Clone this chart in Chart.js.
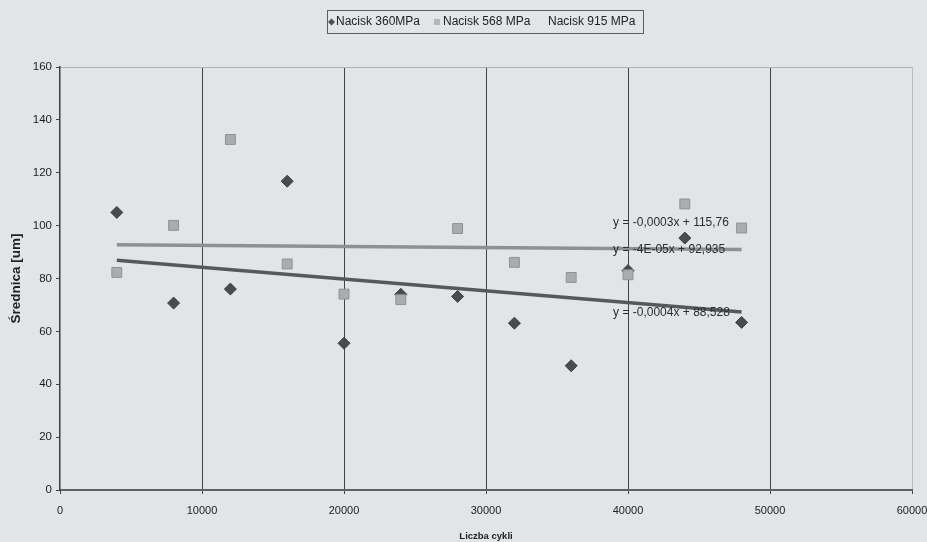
<!DOCTYPE html>
<html><head><meta charset="utf-8">
<script src="https://cdn.jsdelivr.net/npm/chart.js@4/dist/chart.umd.min.js"></script>
<style>html,body{margin:0;padding:0;background:#e1e5e7;overflow:hidden}canvas{display:block}</style>
</head><body>
<canvas id="c" width="927" height="542"></canvas>
<script>
const cycles = [4000, 8000, 12000, 16000, 20000, 24000, 28000, 32000, 36000, 40000, 44000, 48000];
const nacisk360 = [105, 70.7, 76, 116.8, 55.5, 74, 73.2, 63.1, 47, 83, 95.3, 63.4];
const nacisk568 = [82.3, 100.1, 132.6, 85.5, 74.1, 72.0, 98.9, 86.1, 80.4, 81.4, 108.2, 99.1];
const nacisk915 = [];
const seriesLabels = ['Nacisk 360MPa', 'Nacisk 568 MPa', 'Nacisk 915 MPa'];
const trendX = [4000, 48000];
const trend360 = [86.9, 67.3];
const trend568 = [92.8, 91.0];
const equations = ['y = -0,0003x + 115,76', 'y = -4E-05x + 92,935', 'y = -0,0004x + 88,528'];
const xTicks = [0, 10000, 20000, 30000, 40000, 50000, 60000];
const yTicks = [0, 20, 40, 60, 80, 100, 120, 140, 160];
const xTitle = 'Liczba cykli';
const yTitle = 'Średnica [um]';

const FONT = "'Liberation Sans', Arial, sans-serif";
const pts = (xs, ys) => ys.map((y, i) => ({x: xs[i], y}));

const eqLabelPos = [{x: 38950, y: 101}, {x: 38950, y: 90.8}, {x: 38950, y: 67}];

const legendPlugin = {
  id: 'boxLegend',
  afterDraw(chart) {
    const ctx = chart.ctx;
    ctx.save();
    ctx.strokeStyle = '#5a5f62';
    ctx.lineWidth = 1;
    ctx.strokeRect(327.5, 10.5, 316, 23);
    ctx.font = '12px ' + FONT;
    ctx.textBaseline = 'middle';
    const y = 22;
    ctx.fillStyle = '#4a4f52';
    ctx.beginPath();
    ctx.moveTo(331.5, y - 3.5); ctx.lineTo(335, y); ctx.lineTo(331.5, y + 3.5); ctx.lineTo(328, y);
    ctx.closePath(); ctx.fill();
    ctx.fillStyle = '#222';
    ctx.fillText(seriesLabels[0], 336, y);
    ctx.fillStyle = '#b3b7b9';
    ctx.fillRect(434, y - 3, 6, 6);
    ctx.fillStyle = '#222';
    ctx.fillText(seriesLabels[1], 443, y);
    ctx.fillText(seriesLabels[2], 548, y);
    ctx.restore();
  }
};

const eqPlugin = {
  id: 'eqLabels',
  afterDatasetsDraw(chart) {
    const ctx = chart.ctx, xs = chart.scales.x, ys = chart.scales.y;
    ctx.save();
    ctx.font = '12px ' + FONT;
    ctx.fillStyle = '#2a2e30';
    ctx.textBaseline = 'middle';
    equations.forEach((t, i) => {
      ctx.fillText(t, xs.getPixelForValue(eqLabelPos[i].x), ys.getPixelForValue(eqLabelPos[i].y));
    });
    ctx.restore();
  }
};

new Chart(document.getElementById('c'), {
  type: 'scatter',
  data: {
    datasets: [
      {label: seriesLabels[0], data: pts(cycles, nacisk360), pointStyle: 'rectRot', pointRadius: 6,
       backgroundColor: '#474c4f', borderColor: '#3c4043', borderWidth: 1, order: 3},
      {label: seriesLabels[1], data: pts(cycles, nacisk568), pointStyle: 'rect', pointRadius: 7,
       backgroundColor: '#a9adaf', borderColor: '#8e9294', borderWidth: 1, order: 2},
      {label: seriesLabels[2], data: nacisk915, pointRadius: 0, order: 4},
      {label: 'trend568', data: pts(trendX, trend568), type: 'line', showLine: true, pointRadius: 0,
       borderColor: '#8d9193', borderWidth: 3.5, order: 1},
      {label: 'trend360', data: pts(trendX, trend360), type: 'line', showLine: true, pointRadius: 0,
       borderColor: '#55595c', borderWidth: 3.5, order: 0}
    ]
  },
  options: {
    responsive: false,
    animation: false,
    events: [],
    layout: {padding: {top: 67, right: 15, left: 0, bottom: 0}},
    plugins: {legend: {display: false}, tooltip: {enabled: false}},
    scales: {
      x: {
        type: 'linear', min: 0, max: 60000,
        afterBuildTicks: s => { s.ticks = xTicks.map(v => ({value: v})); },
        afterFit: s => { s.height = 52; s.paddingRight = 0; s.paddingLeft = 0; },
        ticks: {callback: v => String(v), color: '#222', font: {family: FONT, size: 11}, padding: 10, maxRotation: 0},
        grid: {
          color: c => (c.tick && c.tick.value === 60000) ? '#b9bdbf' : (c.tick && c.tick.value === 0 ? 'transparent' : '#3e4447'),
          lineWidth: 1, drawTicks: true, tickLength: 4, tickColor: '#444'
        },
        border: {display: true, color: '#5d6264', width: 2},
        title: {display: true, text: xTitle, color: '#222', font: {family: FONT, size: 9.5, weight: 'bold'}, padding: {top: 0, bottom: 0}}
      },
      y: {
        min: 0, max: 160,
        afterBuildTicks: s => { s.ticks = yTicks.map(v => ({value: v})); },
        afterFit: s => { s.width = 60; s.paddingTop = 0; s.paddingBottom = 0; },
        ticks: {color: '#222', font: {family: FONT, size: 11.5}, padding: 4},
        grid: {
          color: c => (c.tick && c.tick.value === 160) ? '#aeb2b4' : 'transparent',
          lineWidth: 1, drawTicks: true, tickLength: 4, tickColor: '#444'
        },
        border: {display: true, color: '#3a3f42', width: 1.5},
        title: {display: true, text: yTitle, color: '#222', font: {family: FONT, size: 13.5, weight: 'bold'}, padding: {top: 8, bottom: 0}}
      }
    }
  },
  plugins: [legendPlugin, eqPlugin]
});
</script>
</body></html>
